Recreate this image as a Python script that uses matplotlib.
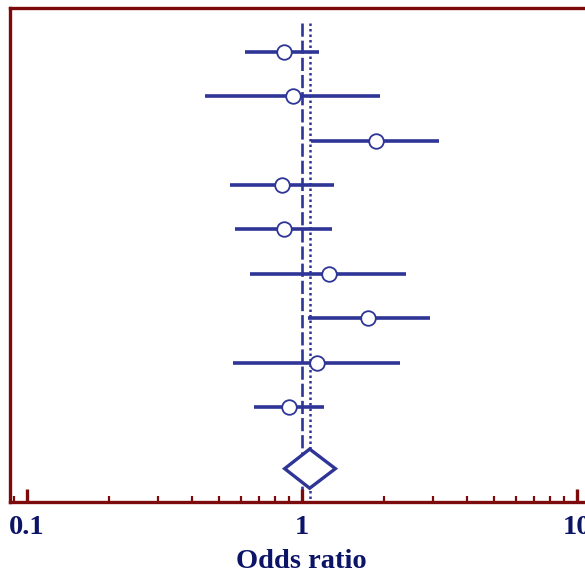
import matplotlib

matplotlib.use("Agg")
import matplotlib.pyplot as plt
from matplotlib.ticker import FixedLocator, LogLocator, NullFormatter

# study odds ratios with 95% CI
ODDS = [0.860, 0.933, 1.863, 0.851, 0.865, 1.254, 1.748, 1.140, 0.899]
CI_LOW = [0.621, 0.444, 1.078, 0.547, 0.574, 0.651, 1.054, 0.563, 0.669]
CI_HIGH = [1.156, 1.927, 3.148, 1.307, 1.289, 2.389, 2.920, 2.272, 1.205]

POOLED = 1.069
POOLED_LOW = 0.867
POOLED_HIGH = 1.326

TICK_VALUES = [0.1, 1, 10]
TICK_LABELS = ["0.1", "1", "10"]

BLUE = "#2e3596"
FRAME = "#7d0a0a"
TEXT = "#0c1468"
FONT = "Liberation Serif"

W, H = 585, 573
fig = plt.figure(figsize=(W / 100, H / 100), dpi=100)

# axes geometry in pixels: 0.1 sits at x=26.7, a decade spans 275 px
left_px, right_px = 10, 640
bottom_px, top_px = 573 - 502, 573 - 8
ax = fig.add_axes([left_px / W, bottom_px / H,
                   (right_px - left_px) / W, (top_px - bottom_px) / H])
x0 = 10 ** (-1 + (left_px - 26.7) / 275)
x1 = 10 ** (-1 + (right_px - 26.7) / 275)
ax.set_xscale("log")
ax.set_xlim(x0, x1)

n = len(ODDS)
ys = list(range(1, n + 1))
pooled_y = n + 1.38
y_bottom = pooled_y + 0.75
ax.set_ylim(y_bottom, 0.02)

# reference lines: null effect (dashed) and pooled estimate (dotted)
ax.plot([1, 1], [0.36, y_bottom], color=BLUE, lw=1.9, ls=(0, (5, 1.5)), zorder=1)
ax.plot([POOLED, POOLED], [0.36, y_bottom], color=BLUE, lw=1.8, ls=(0, (1, 1.2)), zorder=1)

for y, o, lo, hi in zip(ys, ODDS, CI_LOW, CI_HIGH):
    ax.plot([lo, hi], [y, y], color=BLUE, lw=2.6, solid_capstyle="butt", zorder=2)
    ax.plot(o, y, "o", ms=10.5, mfc="white", mec=BLUE, mew=1.3, zorder=3)

dh = 0.44
ax.fill([POOLED_LOW, POOLED, POOLED_HIGH, POOLED, POOLED_LOW],
        [pooled_y, pooled_y - dh, pooled_y, pooled_y + dh, pooled_y],
        facecolor="white", edgecolor=BLUE, lw=2.4, zorder=3)

for side in ["left", "top", "bottom"]:
    ax.spines[side].set_color(FRAME)
    ax.spines[side].set_linewidth(2.4)
ax.spines["right"].set_visible(False)

ax.yaxis.set_visible(False)
ax.xaxis.set_major_locator(FixedLocator(TICK_VALUES))
ax.set_xticklabels(TICK_LABELS)
ax.xaxis.set_minor_locator(LogLocator(base=10, subs=range(2, 10)))
ax.xaxis.set_minor_formatter(NullFormatter())
ax.tick_params(axis="x", which="major", direction="in", length=9.5, width=2.4,
               color=FRAME, pad=9, labelsize=20.5, labelcolor=TEXT)
ax.tick_params(axis="x", which="minor", direction="in", length=4.5, width=1.6,
               color=FRAME)
for lab in ax.get_xticklabels():
    lab.set_fontfamily(FONT)
    lab.set_fontweight("bold")

fig.text(301.5 / W, 1 - 561 / H, "Odds ratio", ha="center", va="center",
         fontsize=20.5, fontweight="bold", color=TEXT, family=FONT)

fig.savefig("out.png", dpi=100)
